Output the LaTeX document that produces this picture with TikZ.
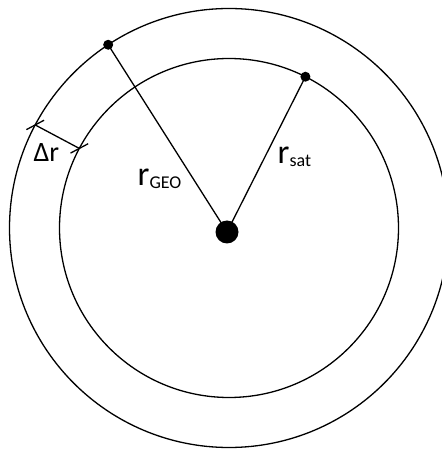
\documentclass[tikz,border=0pt]{standalone}
\usepackage{fontspec}
\setmainfont{Carlito}
\usetikzlibrary{calc}
\newcommand{\bigtxt}[1]{{\fontsize{34}{34}\selectfont #1}}
\newcommand{\subtxt}[1]{\raisebox{-2pt}{\fontsize{18}{18}\selectfont #1}}
\begin{document}
\begin{tikzpicture}[x=1pt,y=1pt,line width=1.3pt]
        \useasboundingbox (0,0) rectangle (442,451);
        % Orbits
        \coordinate (centre) at (229,223);
        \draw (centre) circle (219.5);
        \draw (centre) circle (169.5);

        % Earth and satellites
        \coordinate (earth) at (227,219);
        \coordinate (geo) at ($(centre)+(123.4:219.5)$);
        \coordinate (sat) at ($(centre)+(63.2:169.5)$);
        \draw (earth) -- (geo);
        \draw (earth) -- (sat);
        \fill (earth) circle (11.5);
        \fill (geo) circle (5);
        \fill (sat) circle (5);

        % Delta r between the orbits
        \coordinate (dout) at ($(centre)+(152:219.5)$);
        \coordinate (din) at ($(centre)+(152:169.5)$);
        \draw (dout) -- (din);
        \draw ($(dout)+(28:10)$) -- ($(dout)+(208:10)$);
        \draw ($(din)+(28:10)$) -- ($(din)+(208:10)$);

        % Labels
        \node[anchor=base west,inner sep=0] (dr) at (33,289) {{\fontsize{28}{28}\selectfont Δr}};
        \node[anchor=base west,inner sep=0] (rgeo) at (137,265) {\bigtxt{r}\subtxt{GEO}};
        \node[anchor=base west,inner sep=0] (rsat) at (277,287) {\bigtxt{r}\subtxt{sat}};
      \end{tikzpicture}
\end{document}
